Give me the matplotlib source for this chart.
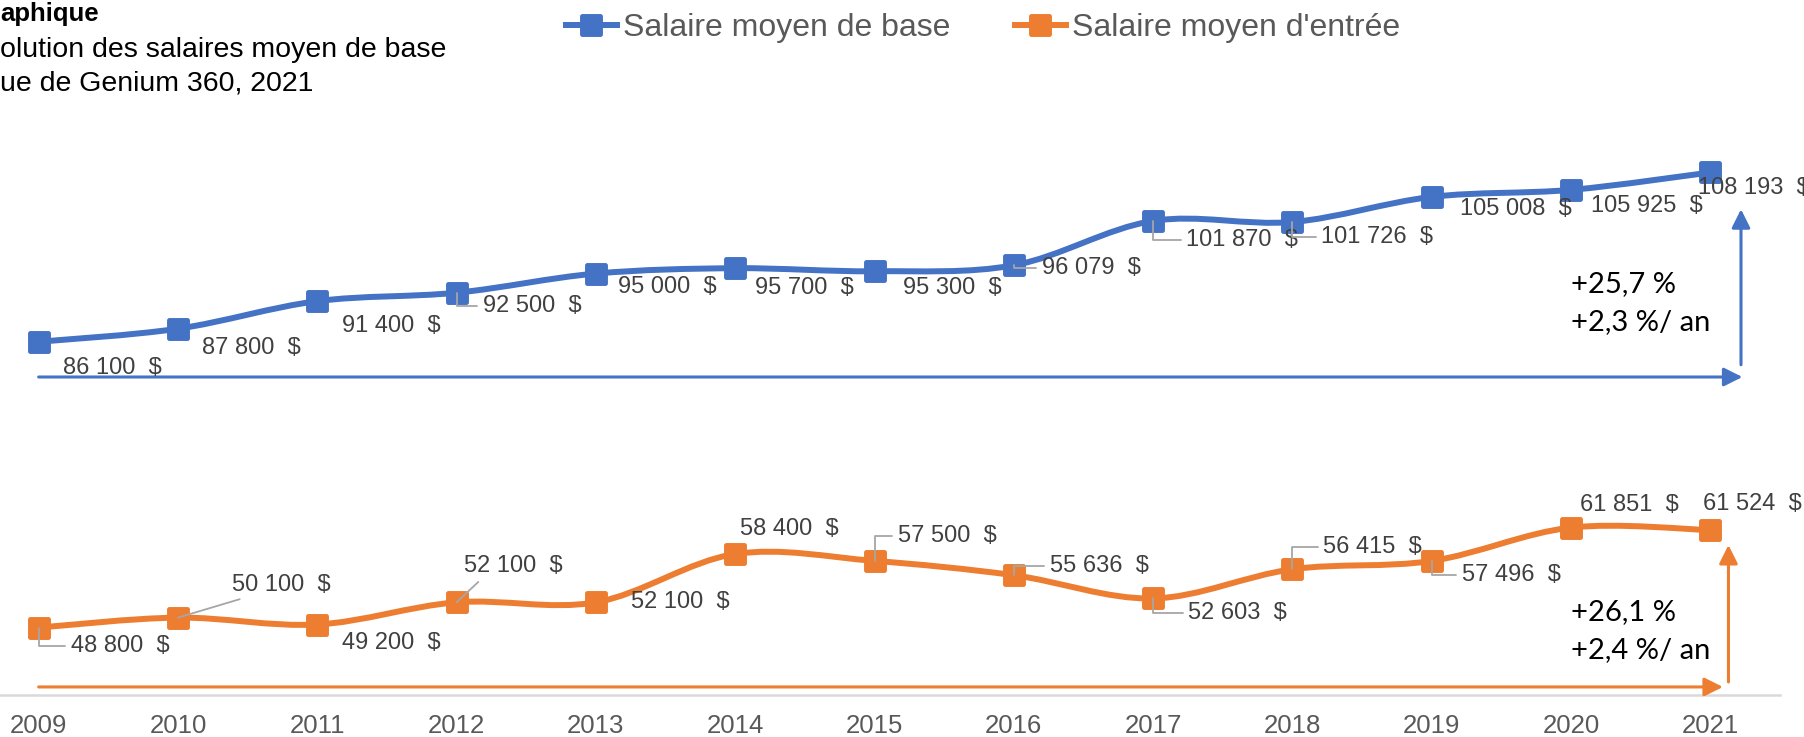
import matplotlib
matplotlib.use("Agg")
import matplotlib.pyplot as plt
from matplotlib.path import Path
from matplotlib.patches import PathPatch
from matplotlib.lines import Line2D

years = [2009, 2010, 2011, 2012, 2013, 2014, 2015, 2016, 2017, 2018, 2019, 2020, 2021]
salaire_base = [86100, 87800, 91400, 92500, 95000, 95700, 95300, 96079, 101870, 101726, 105008, 105925, 108193]
salaire_entree = [48800, 50100, 49200, 52100, 52100, 58400, 57500, 55636, 52603, 56415, 57496, 61851, 61524]
series_names = ["Salaire moyen de base", "Salaire moyen d'entrée"]
growth_base = ["+25,7 %", "+2,3 %/ an"]
growth_entree = ["+26,1 %", "+2,4 %/ an"]

BLUE = "#4472C4"
ORANGE = "#ED7D31"
LABEL = "#404040"
LEADER = "#A6A6A6"
SANS = ["Liberation Sans", "DejaVu Sans"]

# label offsets in pixels (dx to label left edge, dy to label centre, y down)
off_base = [(24, 26), (24, 19), (25, 25), (26, 13), (22, 13), (20, 20), (28, 17),
            (28, 3), (33, 19), (29, 15), (28, 12), (20, 16), (-12, 16)]
lead_base = [None, None, None, "elbow", None, None, None, "elbow", "elbow", "elbow", None, None, None]
off_entree = [(32, 18), (54, -33), (25, 18), (7, -36), (35, 0), (5, -25), (23, -25),
              (36, -9), (35, 15), (31, -22), (30, 14), (9, -23), (-7, -26)]
lead_entree = ["elbow", "straight", None, "straight", None, None, "elbow",
               "elbow", "elbow", "elbow", "elbow", None, None]


def fmt(v):
    s = f"{v:,}".replace(",", " ")
    return s + "  $"


def smooth_path(xs, ys):
    # Excel-like smoothed line drawn as cubic bezier segments
    pts = list(zip(xs, ys))
    n = len(pts)
    verts = [pts[0]]
    codes = [Path.MOVETO]
    for i in range(n - 1):
        p0 = pts[i - 1] if i > 0 else pts[i]
        p1 = pts[i]
        p2 = pts[i + 1]
        p3 = pts[i + 2] if i + 2 < n else pts[i + 1]
        c1 = (p1[0] + (p2[0] - p0[0]) / 6, p1[1] + (p2[1] - p0[1]) / 6)
        c2 = (p2[0] - (p3[0] - p1[0]) / 6, p2[1] - (p3[1] - p1[1]) / 6)
        verts += [c1, c2, p2]
        codes += [Path.CURVE4] * 3
    return Path(verts, codes)


def rounded_square(r=0.22):
    a = 1.0
    v = [(-a + r, -a), (a - r, -a), (a, -a), (a, -a + r), (a, a - r), (a, a),
         (a - r, a), (-a + r, a), (-a, a), (-a, a - r), (-a, -a + r), (-a, -a),
         (-a + r, -a), (-a + r, -a)]
    c = [Path.MOVETO, Path.LINETO, Path.CURVE3, Path.CURVE3, Path.LINETO, Path.CURVE3,
         Path.CURVE3, Path.LINETO, Path.CURVE3, Path.CURVE3, Path.LINETO, Path.CURVE3,
         Path.CURVE3, Path.CLOSEPOLY]
    return Path(v, c)


MARK = rounded_square()

fig = plt.figure(figsize=(18.04, 7.37), dpi=100)
ax = fig.add_axes([-31 / 1804, 42 / 737, 1811 / 1804, 613 / 737])
ax.set_xlim(-0.5, len(years) - 0.5)
ax.set_ylim(40000, 120000)

xs = list(range(len(years)))
for vals, col, offs, leads in [(salaire_base, BLUE, off_base, lead_base),
                               (salaire_entree, ORANGE, off_entree, lead_entree)]:
    ax.add_patch(PathPatch(smooth_path(xs, vals), fc="none", ec=col, lw=4.3,
                           capstyle="round", zorder=3))
    ax.plot(xs, vals, ls="none", marker=MARK, ms=16.5, color=col, mew=0, zorder=4)
    for x, v, (dx, dy), ld in zip(xs, vals, offs, leads):
        props = None
        if ld == "elbow":
            props = dict(arrowstyle="-", color=LEADER, lw=1.3, shrinkA=2, shrinkB=0,
                         relpos=(0, 0.5), connectionstyle="angle,angleA=0,angleB=90,rad=0")
        elif ld == "straight":
            props = dict(arrowstyle="-", color=LEADER, lw=1.3, shrinkA=2, shrinkB=0,
                         relpos=(0.2, 0))
        ax.annotate(fmt(v), (x, v), xytext=(dx, -dy), textcoords="offset pixels",
                    ha="left", va="center", fontsize=17, color=LABEL, family=SANS,
                    arrowprops=props, zorder=5)

# growth arrows
last = len(years) - 1
arrow = dict(arrowstyle="-|>", lw=2.2, mutation_scale=28, shrinkA=0, shrinkB=0)
yb = salaire_base[0] - 4600
ax.annotate("", (last + 0.23, yb), (0, yb), arrowprops=dict(arrow, color=BLUE))
ax.annotate("", (last + 0.22, salaire_base[-1] - 4800), (last + 0.22, yb + 1600),
            arrowprops=dict(arrow, color=BLUE))
yo = salaire_entree[0] - 7750
ax.annotate("", (last + 0.09, yo), (0, yo), arrowprops=dict(arrow, color=ORANGE))
ax.annotate("", (last + 0.13, salaire_entree[-1] - 1950), (last + 0.13, yo + 650),
            arrowprops=dict(arrow, color=ORANGE))

GFONT = ["Lato", "DejaVu Sans"]
ax.text(11.0, 93650, growth_base[0], fontsize=21, family=GFONT, va="center", ha="left")
ax.text(11.0, 88700, growth_base[1], fontsize=21, family=GFONT, va="center", ha="left")
ax.text(11.0, 50840, growth_entree[0], fontsize=21, family=GFONT, va="center", ha="left")
ax.text(11.0, 45870, growth_entree[1], fontsize=21, family=GFONT, va="center", ha="left")

ax.set_xticks(xs)
ax.set_xticklabels([str(y) for y in years], fontsize=18.5, color="#595959", family=SANS)
ax.tick_params(axis="x", length=0, pad=14)
ax.set_yticks([])
for s in ["left", "right", "top"]:
    ax.spines[s].set_visible(False)
ax.spines["bottom"].set_color("#D9D9D9")
ax.spines["bottom"].set_linewidth(1.8)

handles = [Line2D([], [], color=BLUE, lw=4.3, marker=MARK, ms=16.5, mew=0),
           Line2D([], [], color=ORANGE, lw=4.3, marker=MARK, ms=16.5, mew=0)]
fig.legend(handles, series_names, loc="center", bbox_to_anchor=(983 / 1804, 1 - 28 / 737),
           ncol=2, frameon=False, handlelength=1.6, handletextpad=0.2, columnspacing=2.0,
           prop=dict(family=SANS, size=23), labelcolor="#595959")

fig.text(0, 1 - 14 / 737, "aphique", fontsize=18.5, fontweight="bold", family=SANS,
         va="center", ha="left")
fig.text(0, 1 - 50 / 737, "olution des salaires moyen de base", fontsize=20.5,
         family=SANS, va="center", ha="left")
fig.text(0, 1 - 84 / 737, "ue de Genium 360, 2021", fontsize=20.5, family=SANS,
         va="center", ha="left")

fig.savefig("out.png", dpi=100)
